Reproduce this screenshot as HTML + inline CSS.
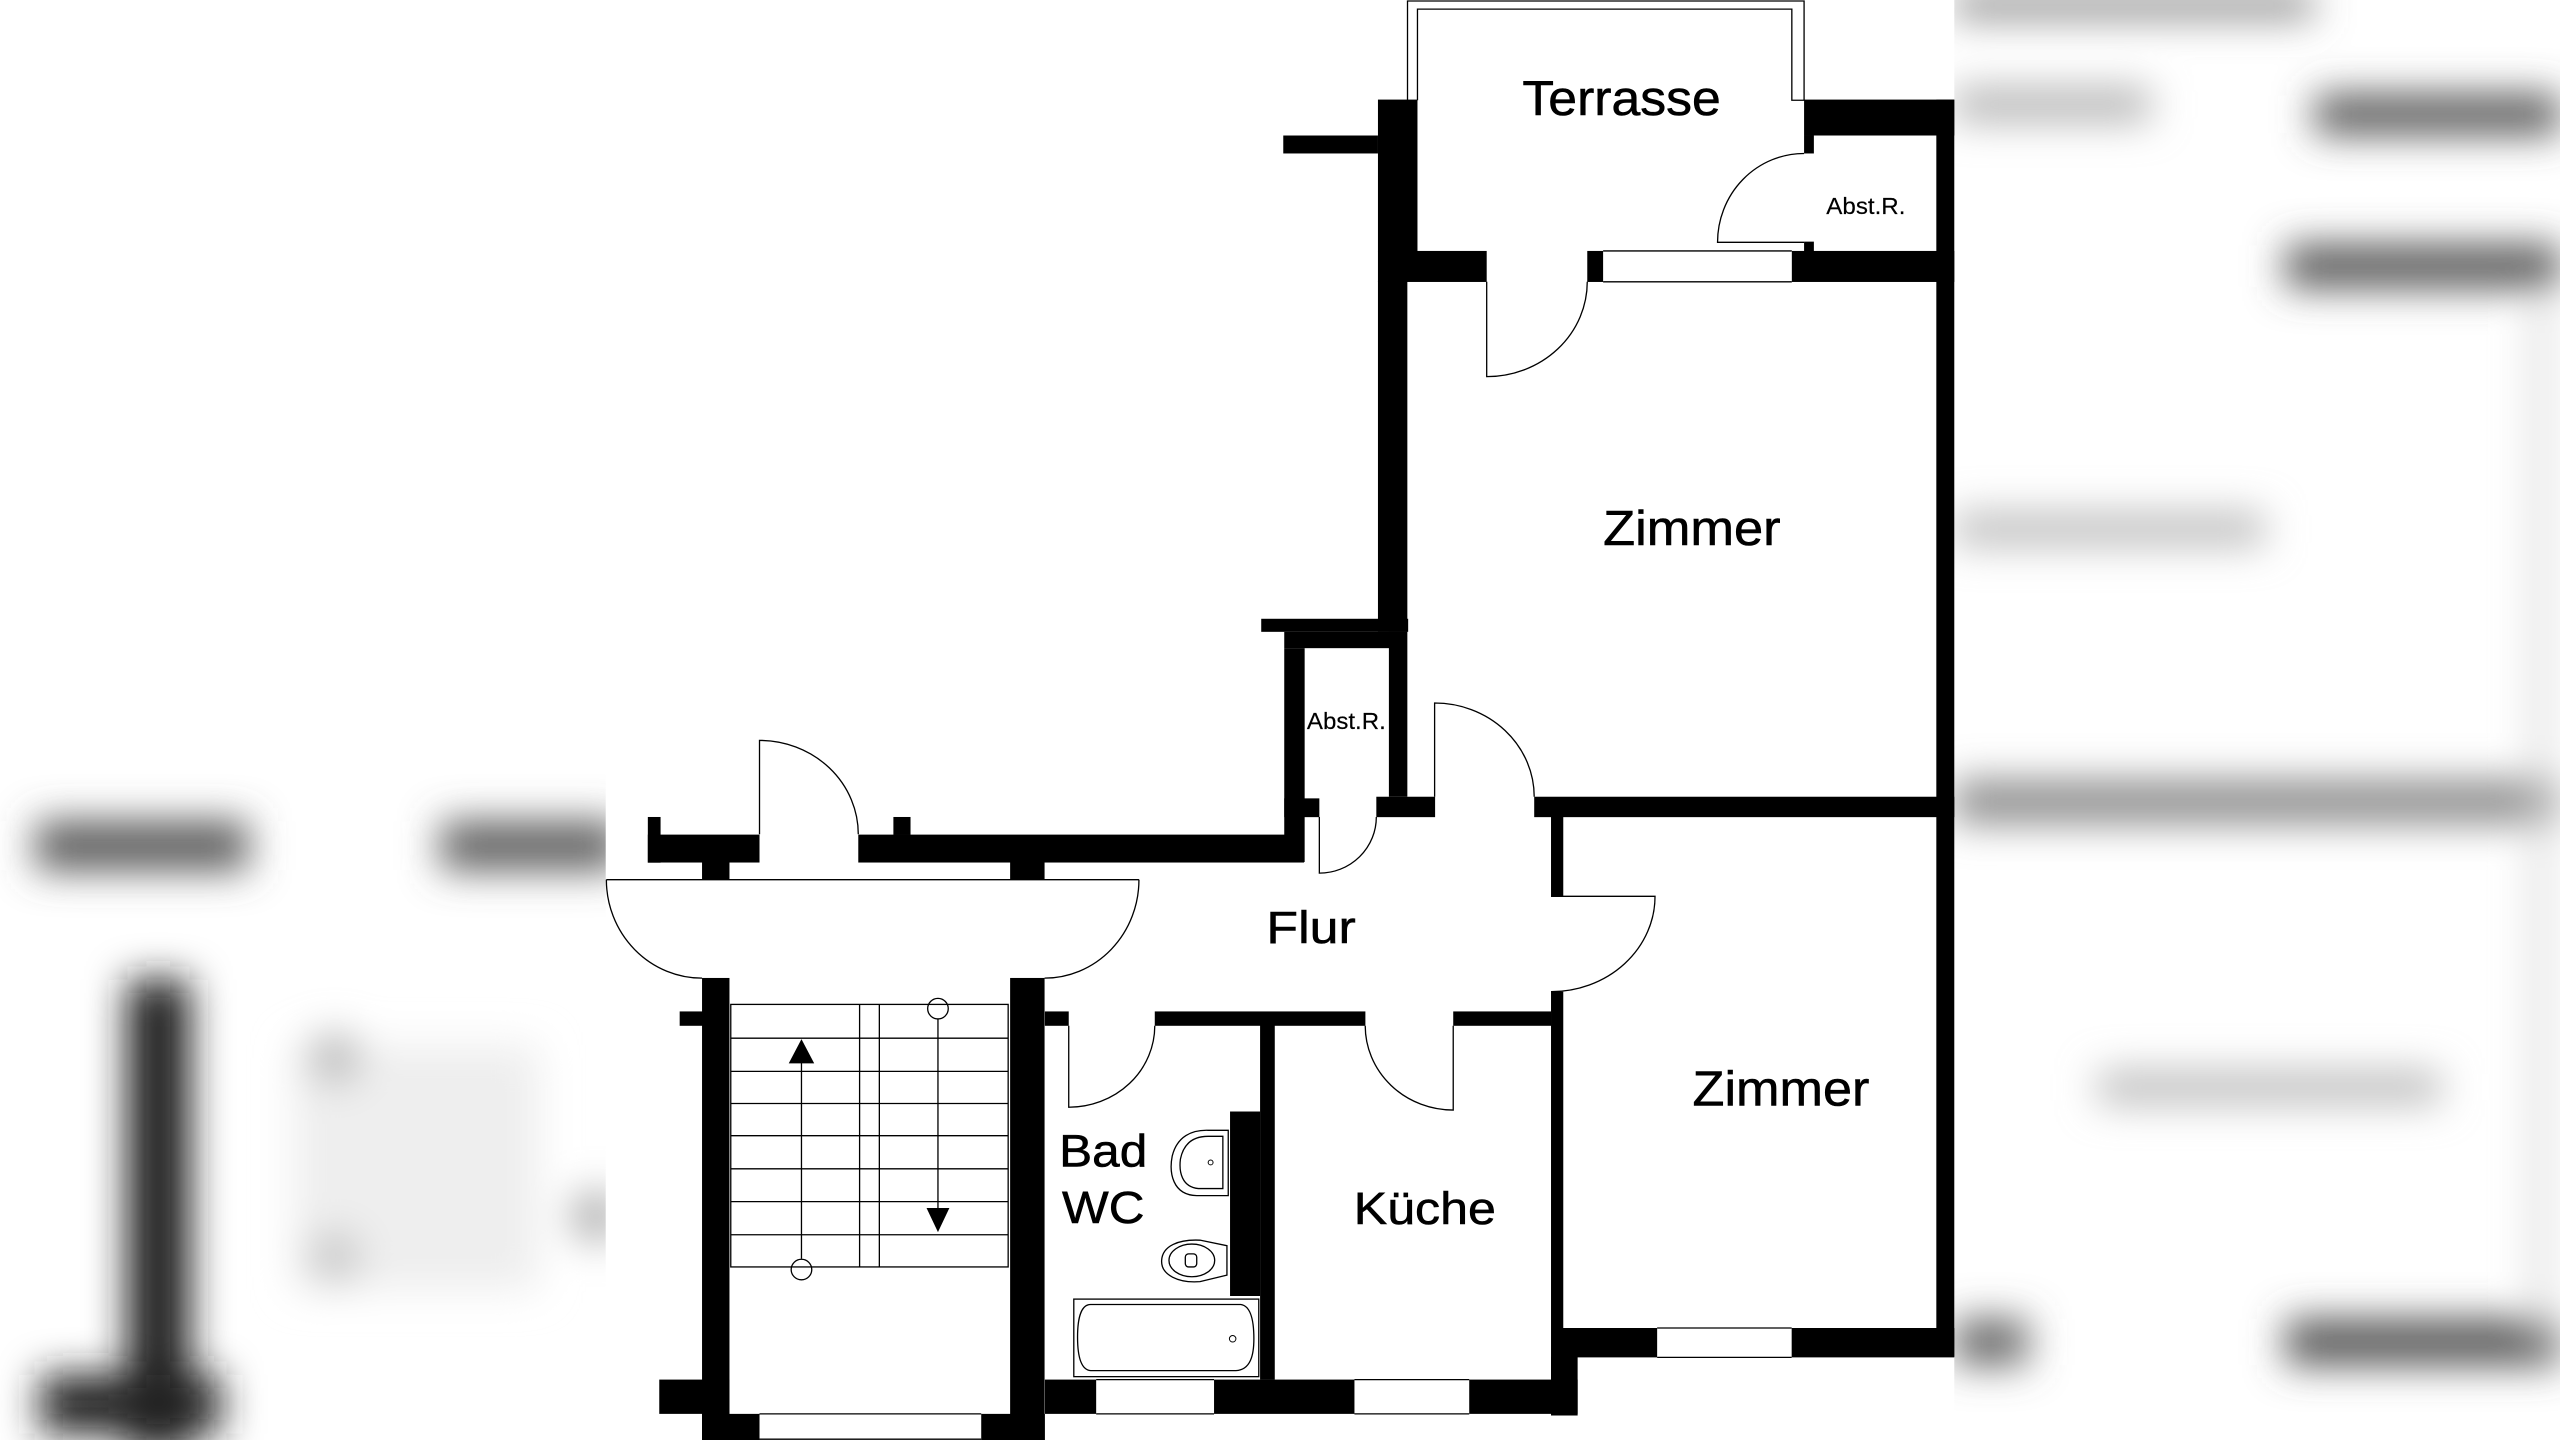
<!DOCTYPE html>
<html><head><meta charset="utf-8"><style>
html,body{margin:0;padding:0;background:#fff;}
svg{display:block;}
text{font-family:"Liberation Sans",Arial,sans-serif;fill:#000;stroke:#000;stroke-width:0.35;}
</style></head><body>
<svg width="2560" height="1440" viewBox="0 0 1568 882" xmlns="http://www.w3.org/2000/svg">
<defs>
<filter id="b" x="-30%" y="-30%" width="160%" height="160%"><feGaussianBlur stdDeviation="12"/></filter>
</defs>
<rect width="1568" height="882" fill="#fff"/>
<g filter="url(#b)">
<rect x="22" y="503" width="130" height="30" fill="#5a5a5a"/>
<rect x="270" y="503" width="110" height="30" fill="#606060"/>
<rect x="78" y="600" width="38" height="290" fill="#1a1a1a"/>
<rect x="25" y="842" width="110" height="36" fill="#222"/>
<rect x="180" y="640" width="150" height="150" fill="#eeeeee"/>
<circle cx="205" cy="648" r="16" fill="#bbb"/>
<circle cx="205" cy="770" r="16" fill="#c8c8c8"/>
<circle cx="365" cy="745" r="16" fill="#b0b0b0"/>
</g>
<g filter="url(#b)">
<rect x="1197" y="-4" width="220" height="14" fill="#777"/>
<rect x="1197" y="54" width="120" height="20" fill="#b0b0b0"/>
<rect x="1418" y="58" width="150" height="24" fill="#555"/>
<rect x="1400" y="150" width="168" height="26" fill="#555"/>
<rect x="1197" y="314" width="190" height="20" fill="#bbb"/>
<rect x="1197" y="478" width="371" height="26" fill="#8a8a8a"/>
<rect x="1285" y="656" width="210" height="20" fill="#bbb"/>
<rect x="1197" y="808" width="45" height="28" fill="#666"/>
<rect x="1400" y="808" width="168" height="28" fill="#555"/>
<rect x="1552" y="180" width="8" height="640" fill="#ccc"/>
</g>
<rect x="371" y="0" width="826" height="882" fill="#fff"/>
<g fill="#000">
<rect x="844" y="61" width="24.2" height="93"/>
<rect x="786" y="83" width="58" height="11"/>
<rect x="1105" y="61" width="92" height="22"/>
<rect x="1186" y="61" width="11" height="770"/>
<rect x="1105" y="83" width="6" height="11"/>
<rect x="1105" y="148" width="6" height="6"/>
<rect x="844" y="153.7" width="66.6" height="19"/>
<rect x="972.2" y="153.7" width="9.7" height="19"/>
<rect x="1097.5" y="153.7" width="99.5" height="19"/>
<rect x="844" y="172" width="18" height="215"/>
<rect x="850.7" y="387" width="11.3" height="101"/>
<rect x="772.5" y="379" width="90" height="8"/>
<rect x="786.6" y="387" width="75" height="10"/>
<rect x="786.6" y="397" width="12.5" height="131"/>
<rect x="786.6" y="489" width="21.5" height="11.5"/>
<rect x="843" y="488" width="36" height="12.5"/>
<rect x="939.7" y="488" width="257.3" height="12.5"/>
<rect x="950" y="500" width="7.5" height="49"/>
<rect x="950" y="607.4" width="7.5" height="238"/>
<rect x="957" y="813.4" width="58" height="18"/>
<rect x="1097.4" y="813.4" width="99.6" height="18"/>
<rect x="950" y="831" width="16.3" height="36"/>
<rect x="640" y="619.5" width="14.6" height="8.8"/>
<rect x="707.3" y="619.5" width="129" height="8.8"/>
<rect x="890.1" y="619.5" width="60" height="8.8"/>
<rect x="403.8" y="845" width="43" height="21"/>
<rect x="640" y="845" width="31.4" height="21"/>
<rect x="743.6" y="845" width="86" height="21"/>
<rect x="899.9" y="845" width="66.4" height="21"/>
<rect x="430" y="599" width="16.8" height="283"/>
<rect x="618.7" y="599" width="21.1" height="283"/>
<rect x="416.3" y="619.5" width="14" height="8.8"/>
<rect x="430" y="866" width="35.2" height="16"/>
<rect x="601" y="866" width="39" height="16"/>
<rect x="771.8" y="628" width="9" height="217"/>
<rect x="753.4" y="680.8" width="18.4" height="113"/>
<rect x="396.8" y="500.4" width="7.8" height="28"/>
<rect x="396.8" y="511.2" width="68.4" height="17.1"/>
<rect x="547.2" y="500.4" width="10.5" height="11"/>
<rect x="525.7" y="511.2" width="273" height="17.1"/>
<rect x="430" y="528" width="16.8" height="11"/>
<rect x="618.7" y="528" width="21.1" height="11"/>
</g>
<g fill="none" stroke="#000" stroke-width="0.8">
<path d="M862.1,61.4 V0.6 H1105 V61.4 H1097.5 V5.6 H868.2 V61.4"/>
<path d="M981.9,153.7 H1097.5 M981.9,172.6 H1097.5"/>
<path d="M1015,813.4 H1097.4 M1015,831.4 H1097.4"/>
<path d="M671.4,845 H743.6 M671.4,866 H743.6"/>
<path d="M829.6,845 H899.9 M829.6,866 H899.9"/>
<path d="M465.2,866 H601 M465.2,881.5 H601"/>
<path d="M465.2,511 V453.5 A60.5,57.5 0 0 1 525.7,511"/>
<path d="M371.4,538.8 H697.6"/>
<path d="M371.4,538.8 A58.6,60.3 0 0 0 430,599.1"/>
<path d="M697.6,538.8 A57.8,60.3 0 0 1 639.8,599.1"/>
<path d="M808.1,500.4 V534.8 A34.9,34.4 0 0 0 843,500.4"/>
<path d="M878.7,488 V430.6 A61,57.4 0 0 1 939.7,488"/>
<path d="M950,549 H1013.7 A63.7,58.4 0 0 1 950,607.4"/>
<path d="M654.6,628.3 V678.2 A52.7,49.9 0 0 0 707.3,628.3"/>
<path d="M890.1,628.3 V679.9 A53.9,51.6 0 0 1 836.2,628.3"/>
<path d="M910.6,172.6 V230.7 A61.6,58.1 0 0 0 972.2,172.6"/>
<path d="M1105,148.4 H1052 A53,54.4 0 0 1 1105,94"/>
<rect x="447.6" y="615.2" width="169.9" height="160.8"/>
<path d="M526.5,615.2 V776 M538.6,615.2 V776"/>
<path d="M447.6,635.9 H617.5 M447.6,656.2 H617.5 M447.6,675.9 H617.5 M447.6,695.6 H617.5 M447.6,715.9 H617.5 M447.6,736 H617.5 M447.6,756.3 H617.5"/>
<path d="M490.9,771 V650"/>
<circle cx="490.9" cy="777.6" r="6.3"/>
<path d="M574.5,624 V742"/>
<circle cx="574.5" cy="617.8" r="6.3"/>
<path d="M752.3,692.3 V732.3 H733 C718,732 716,718 718,708 C721,696 730,692 740,692.3 Z"/>
<path d="M749,696 V728 H734 C724,727 722,718 723,710 C725,700 731,696 740,696 Z"/>
<path d="M751.5,763 V781 L735,785 C722,786 711,781 711.5,772 C712,763 722,759 735,759.6 Z"/>
<ellipse cx="730" cy="772" rx="14" ry="10"/>
<rect x="726" y="768" width="7" height="8" rx="2"/>
<rect x="657.7" y="795.7" width="113.3" height="47.5"/>
<path d="M668,799 H760 C767,800 768,812 768,820 C768,830 766,839 757,839.5 H668 C662,839 660,830 660,819 C660,808 662,799 668,799 Z"/>
</g>
<circle cx="741.5" cy="712" r="1.5" fill="none" stroke="#000" stroke-width="0.6"/>
<circle cx="755" cy="820" r="2" fill="none" stroke="#000" stroke-width="0.6"/>
<path d="M483.1,651.3 L490.9,636.5 L498.7,651.3 Z" fill="#000"/>
<path d="M567.5,739.9 L581.5,739.9 L574.5,754.7 Z" fill="#000"/>
<text x="932.5" y="70.4" font-size="30" textLength="121.5" lengthAdjust="spacingAndGlyphs">Terrasse</text>
<text x="1118.6" y="131" font-size="14" textLength="48.5" lengthAdjust="spacingAndGlyphs" style="stroke-width:0.1">Abst.R.</text>
<text x="800.5" y="446.4" font-size="14" textLength="48.3" lengthAdjust="spacingAndGlyphs" style="stroke-width:0.1">Abst.R.</text>
<text x="981.9" y="333.7" font-size="30" textLength="108.7" lengthAdjust="spacingAndGlyphs">Zimmer</text>
<text x="1036.7" y="677" font-size="30" textLength="108.3" lengthAdjust="spacingAndGlyphs">Zimmer</text>
<text x="775.7" y="577.5" font-size="28" textLength="54.7" lengthAdjust="spacingAndGlyphs">Flur</text>
<text x="648.7" y="714.6" font-size="28" textLength="54" lengthAdjust="spacingAndGlyphs">Bad</text>
<text x="650.5" y="749.1" font-size="28" textLength="50.5" lengthAdjust="spacingAndGlyphs">WC</text>
<text x="829.2" y="749.8" font-size="28" textLength="87" lengthAdjust="spacingAndGlyphs">Küche</text>
</svg>
</body></html>
